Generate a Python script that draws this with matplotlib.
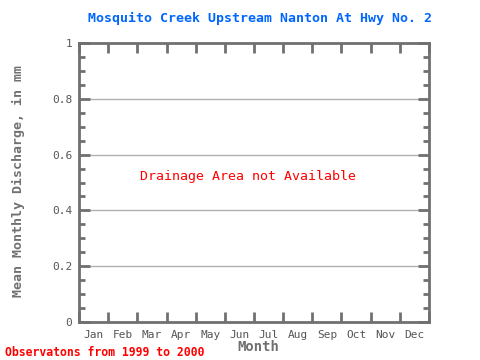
import matplotlib
matplotlib.use("Agg")
import matplotlib.pyplot as plt
from matplotlib.ticker import MultipleLocator, FixedLocator

months = ["Jan", "Feb", "Mar", "Apr", "May", "Jun", "Jul", "Aug", "Sep", "Oct", "Nov", "Dec"]
y_ticks = [0, 0.2, 0.4, 0.6, 0.8, 1]
y_tick_labels = ["0", "0.2", "0.4", "0.6", "0.8", "1"]
title = "Mosquito Creek Upstream Nanton At Hwy No. 2"
note = "Drainage Area not Available"
footer = "Observatons from 1999 to 2000"

plt.rcParams['font.family'] = ['DejaVu Sans Mono']
gray = "#707070"

fig = plt.figure(figsize=(4.8, 3.6), dpi=100)
ax = fig.add_axes([79 / 480, 1 - 322 / 360, 350 / 480, 279 / 360])

ax.set_xlim(0, 12)
ax.set_ylim(0, 1)

# month labels between the boundary ticks
ax.xaxis.set_major_locator(FixedLocator(range(13)))
ax.xaxis.set_minor_locator(FixedLocator([i + 0.5 for i in range(12)]))
ax.set_xticklabels([""] * 13)
ax.set_xticklabels(months, minor=True)
ax.tick_params(axis="x", which="major", direction="in", length=7, width=2,
               color=gray, top=True, bottom=True)
ax.tick_params(axis="x", which="minor", length=0, pad=6, labelsize=8, labelcolor="#555555")

ax.set_yticks(y_ticks)
ax.set_yticklabels(y_tick_labels)
ax.yaxis.set_minor_locator(MultipleLocator(0.05))
ax.tick_params(axis="y", which="major", direction="in", length=8, width=2,
               color=gray, left=True, right=True, labelsize=8, labelcolor="#555555", pad=5)
ax.tick_params(axis="y", which="minor", direction="in", length=4, width=2,
               color=gray, left=True, right=True)

for s in ax.spines.values():
    s.set_color(gray)
    s.set_linewidth(2)

for y in y_ticks[1:-1]:
    ax.axhline(y, color="#b0b0b0", linewidth=1, zorder=0)

ax.text(5.8, 0.52, note, color="red", fontsize=9.5, ha="center", va="center")

fig.text(258 / 480, 1 - 347 / 360, "Month", color=gray, fontsize=10, fontweight="bold",
         ha="center", va="center")
fig.text(18 / 480, 1 - 181 / 360, "Mean Monthly Discharge, in mm", color=gray, fontsize=9.5,
         fontweight="bold", rotation=90, ha="center", va="center")
fig.text(260 / 480, 1 - 18 / 360, title, color="#0066ff", fontsize=9.5, fontweight="bold",
         ha="center", va="center")
fig.text(5 / 480, 1 - 352 / 360, footer, color="red", fontsize=8.3, fontweight="bold",
         ha="left", va="center")

fig.savefig("out.png", dpi=100)
